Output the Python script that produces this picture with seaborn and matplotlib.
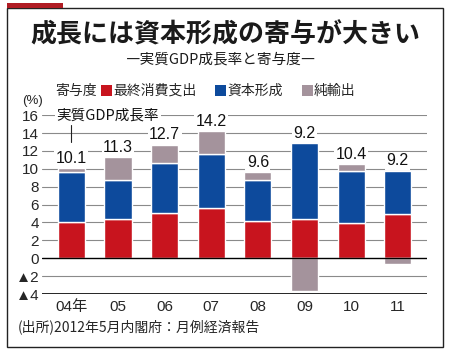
import matplotlib
matplotlib.use("Agg")
import matplotlib.pyplot as plt
from matplotlib.patches import Rectangle
import numpy as np
import pandas as pd
import seaborn as sns

# データ (寄与度, %)
years = ["04年", "05", "06", "07", "08", "09", "10", "11"]
consumption = [4.0, 4.4, 5.1, 5.6, 4.2, 4.4, 3.9, 4.9]      # 最終消費支出
capital = [5.6, 4.3, 5.6, 6.1, 4.6, 8.5, 5.9, 4.9]          # 資本形成
net_exports = [0.5, 2.6, 2.0, 2.5, 0.8, -3.7, 0.7, -0.6]    # 純輸出
growth = [10.1, 11.3, 12.7, 14.2, 9.6, 9.2, 10.4, 9.2]      # 実質GDP成長率
yticks = [-4, -2, 0, 2, 4, 6, 8, 10, 12, 14, 16]

RED = "#c8141e"
BLUE = "#0d4a9c"
GRAY = "#a4939c"
NUMFONT = ["Liberation Sans", "Noto Sans CJK JP", "DejaVu Sans"]

sns.set_theme(style="white")
plt.rcParams["font.family"] = ["Noto Sans CJK JP", "DejaVu Sans"]

df = pd.DataFrame({"year": years, "cons": consumption, "cap": capital, "net": net_exports})
df["cap_bottom"] = df["cons"]
df["net_bottom"] = np.where(df["net"] >= 0, df["cons"] + df["cap"], 0)

fig = plt.figure(figsize=(4.5, 3.5), dpi=100)
ax = fig.add_axes([0.0933, 0.16, 0.856, 0.511])

# grid lines
for y in yticks:
    if y in (0, -4):
        continue
    ax.axhline(y, color="#8a8a8a", lw=0.8, zorder=0)

sns.barplot(data=df, x="year", y="cons", color=RED, width=0.58, saturation=1,
            ax=ax, zorder=2)
sns.barplot(data=df, x="year", y="cap", bottom=df["cap_bottom"], color=BLUE,
            width=0.58, saturation=1, ax=ax, zorder=2)
sns.barplot(data=df, x="year", y="net", bottom=df["net_bottom"], color=GRAY,
            width=0.58, saturation=1, ax=ax, zorder=2)

ax.axhline(0, color="black", lw=1.0, zorder=3)
ax.axhline(-4, color="black", lw=1.2, zorder=3)

ax.set_xlim(-0.63, 7.63)
ax.set_ylim(-4, 16)
ax.set_yticks(yticks)
ax.set_yticklabels([("▲%d" % -t) if t < 0 else str(t) for t in yticks],
                   fontsize=11, family=NUMFONT)
ax.set_xticks(range(len(years)))
ax.set_xticklabels(years, fontsize=11, family=NUMFONT)
ax.tick_params(axis="y", length=0, pad=2)
ax.tick_params(axis="x", length=0, pad=4)
ax.set_xlabel("")
ax.set_ylabel("")
for s in ax.spines.values():
    s.set_visible(False)

# growth labels
tops = df["cons"] + df["cap"] + df["net"].clip(lower=0)
for i, (t, g) in enumerate(zip(tops, growth)):
    ax.text(i, t + 0.25, f"{g:.1f}", ha="center", va="bottom", fontsize=11.5,
            family=NUMFONT, color="#111111", zorder=4,
            bbox=dict(facecolor="white", edgecolor="none", pad=1.0))

ax.text(-0.32, 16, "実質GDP成長率", ha="left", va="center", fontsize=10.5,
        color="#111111", zorder=4, clip_on=False,
        bbox=dict(facecolor="white", edgecolor="none", pad=1.0))
ax.plot([0, 0], [13.0, 14.9], color="#222222", lw=0.8, zorder=4)

# titles
fig.text(0.5, 1 - 35 / 350, "成長には資本形成の寄与が大きい", ha="center", va="center",
         fontsize=18.7, fontweight="bold", color="#1a1a1a")
fig.text(0.491, 1 - 60 / 350, "―実質GDP成長率と寄与度―", ha="center", va="center",
         fontsize=10.5, color="#1a1a1a")

# legend
ly = 1 - 91 / 350
fig.text(55 / 450, ly, "寄与度", ha="left", va="center", fontsize=10)
for x0, col, lab in [(101, RED, "最終消費支出"), (215, BLUE, "資本形成"), (302, GRAY, "純輸出")]:
    fig.patches.append(Rectangle((x0 / 450, ly - 5 / 350), 11 / 450, 11 / 350,
                                 transform=fig.transFigure, facecolor=col, edgecolor="none"))
    fig.text((x0 + 12) / 450, ly, lab, ha="left", va="center", fontsize=10)

fig.text(22 / 450, 1 - 101 / 350, "(%)", ha="left", va="center", fontsize=9.5,
         family=NUMFONT)
fig.text(18 / 450, 1 - 327 / 350, "(出所)2012年5月内閣府：月例経済報告", ha="left",
         va="center", fontsize=10)

# frame
fig.patches.append(Rectangle((7 / 450, 3 / 350), 436 / 450, 339 / 350,
                             transform=fig.transFigure, facecolor="none",
                             edgecolor="#222222", lw=1.0))
fig.patches.append(Rectangle((7 / 450, 1 - 8 / 350), 56 / 450, 5 / 350,
                             transform=fig.transFigure, facecolor="#b01c24",
                             edgecolor="none"))

fig.savefig("out.png", dpi=100)
